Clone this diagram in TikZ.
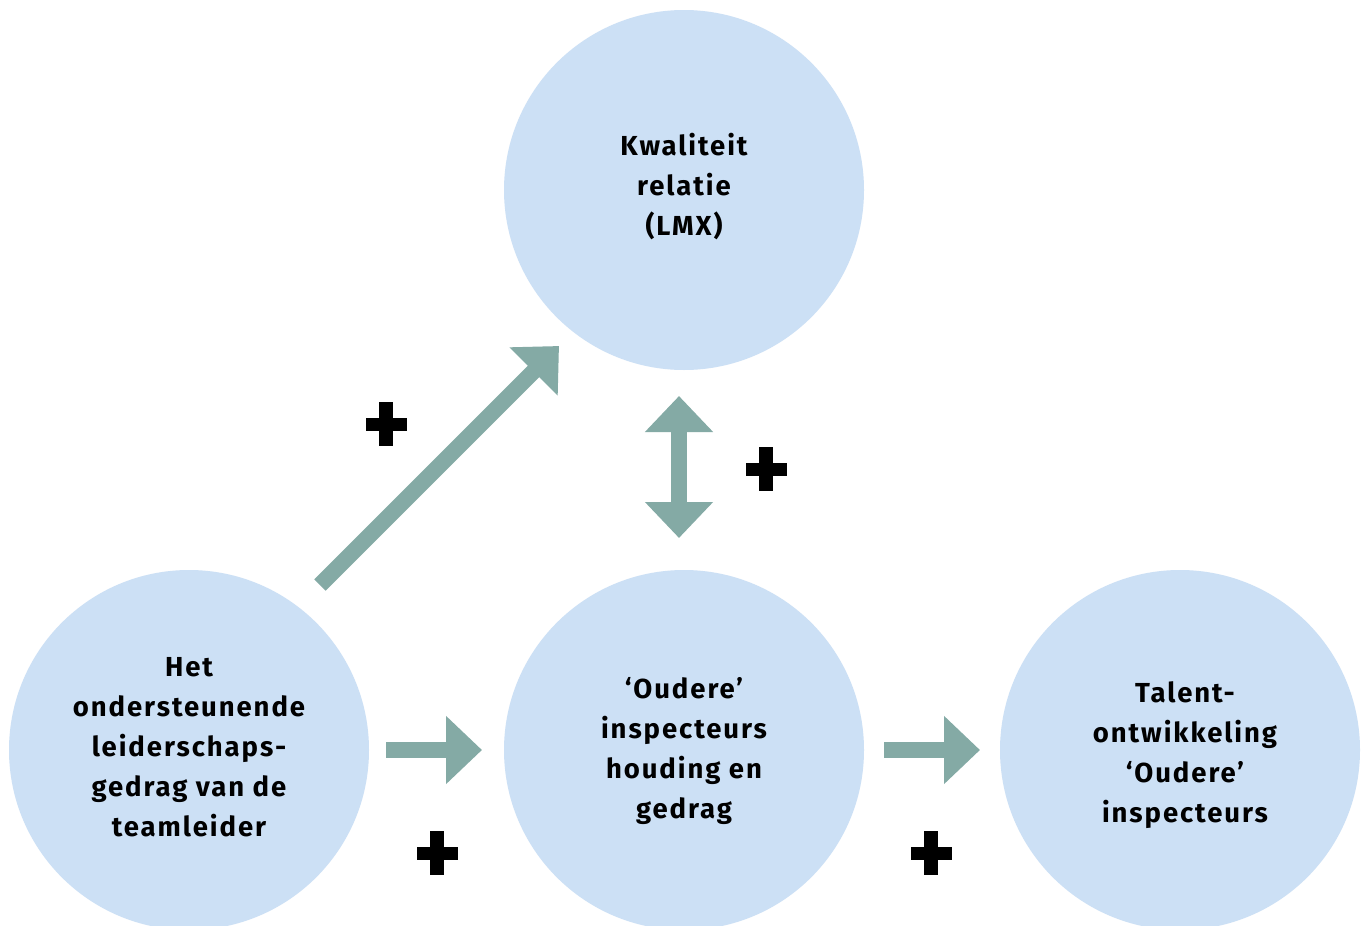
\documentclass[tikz,border=0pt]{standalone}
\usepackage{fontspec}
\setmainfont[LetterSpace=7]{Fira Sans}
\usetikzlibrary{arrows.meta}
\definecolor{circ}{HTML}{CCE0F5}
\definecolor{arr}{HTML}{84AAA5}
\begin{document}
\begin{tikzpicture}[x=1pt,y=-1pt,
  bubble/.style={circle,fill=circ,minimum size=360pt,inner sep=0pt},
  bubbletext/.style={align=center,inner sep=0pt,
    font=\fontsize{27.5}{40}\selectfont\bfseries},
  flow/.style={draw=arr,line width=16pt,-{Triangle[width=66pt,length=36pt]}},
  bothflow/.style={draw=arr,line width=16pt,{Triangle[width=66pt,length=36pt]}-{Triangle[width=66pt,length=36pt]}},
  plussign/.pic={\fill (-20.5,-6.5) rectangle (20.5,6.5); \fill (-7,-22) rectangle (7,22);}
]
\useasboundingbox (0,0) rectangle (1365,926);
\fill[white] (0,0) rectangle (1365,926);
\clip (0,0) rectangle (1365,926);

\node[bubble] (lmx) at (684,190) {};
\node[bubble] (lead) at (189,750) {};
\node[bubble] (old) at (684,750) {};
\node[bubble] (tal) at (1180,750) {};

\node[bubbletext] (lmxt) at (684,187) {Kwaliteit\\relatie\\(LMX)};
\node[bubbletext] (leadt) at (189,747) {Het\\ondersteunende\\leiderschaps-\\gedrag van de\\teamleider};
\node[bubbletext] (oldt) at (684,751) {‘Oudere’\\inspecteurs\\houding en\\gedrag};
\node[bubbletext] (talt) at (1185,755) {Talent-\\ontwikkeling\\‘Oudere’\\inspecteurs};

\coordinate (d1) at (320,585);
\coordinate (d2) at (559,346);
\coordinate (h1) at (386,750);
\coordinate (h2) at (482,750);
\coordinate (h3) at (884,750);
\coordinate (h4) at (980,750);
\coordinate (v1) at (679,396);
\coordinate (v2) at (679,538);

\draw[flow] (d1) -- (d2);
\draw[flow] (h1) -- (h2);
\draw[flow] (h3) -- (h4);
\draw[bothflow] (v1) -- (v2);

\pic at (386,424) {plussign};
\pic at (766,469) {plussign};
\pic at (437,853) {plussign};
\pic at (931,853) {plussign};
\end{tikzpicture}
\end{document}
